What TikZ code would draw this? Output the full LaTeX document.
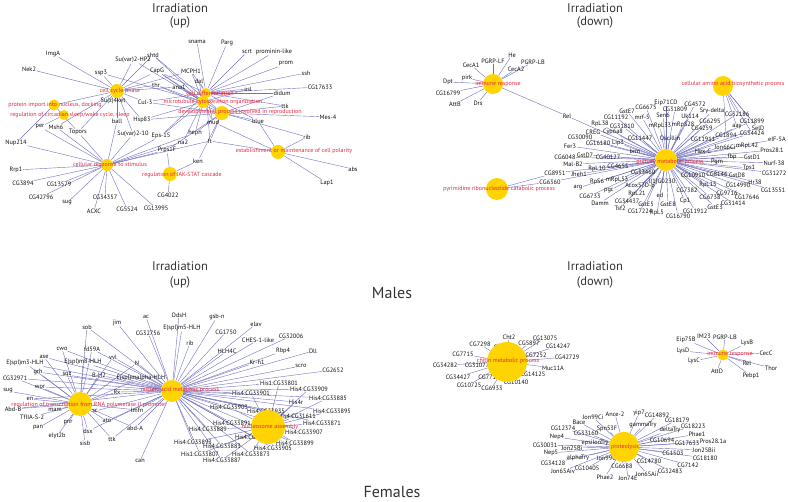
\documentclass[tikz,border=0pt]{standalone}
\usepackage{fontspec}
\setmainfont{PT Sans}
\pgfdeclarelayer{bg}
\pgfsetlayers{bg,main}
\definecolor{edgec}{RGB}{112,112,192}
\definecolor{hubc}{RGB}{255,212,0}
\definecolor{hubl}{RGB}{228,40,62}
\definecolor{txt}{RGB}{15,15,15}
\newcommand\gnode[4]{\node[gene] (#1) at (#2,#3) {#4};}
\newcommand\hubnode[7]{\node[hubdot, minimum size=#4pt] (#1) at (#2,#3) {}; \node[hublab] (#1-l) at (#6,#7) {#5};}
\newcommand\edges[2]{\foreach \g in {#2}{\draw[edge] (#1) -- (\g);}}
\begin{document}
\begin{tikzpicture}[x=1pt,y=-1pt,
  gene/.style={font=\fontsize{6.3}{7}\selectfont, text=txt, inner sep=0.4pt},
  hubdot/.style={circle, fill=hubc, draw=none, inner sep=0},
  hublab/.style={font=\fontsize{6}{7}\selectfont, text=hubl, inner sep=0},
  edge/.style={draw=edgec, line width=0.4pt},
  ttl/.style={font=\fontsize{12.5}{14}\selectfont, text=txt!85, inner sep=0},
  big/.style={font=\fontsize{16}{18}\selectfont, text=txt!85, inner sep=0}]
\useasboundingbox (0,0) rectangle (788,502);
% titles
\node[ttl] (t1) at (180,8) {Irradiation};
\node[ttl] (t2) at (180,22) {(up)};
\node[ttl] (t3) at (595,8) {Irradiation};
\node[ttl] (t4) at (595,22) {(down)};
\node[ttl] (t5) at (180,266) {Irradiation};
\node[ttl] (t6) at (180,282) {(up)};
\node[ttl] (t7) at (595,266) {Irradiation};
\node[ttl] (t8) at (595,282) {(down)};
\node[big] (males) at (392,293) {Males};
\node[big] (females) at (392,492) {Females};
% ================= TL =================
\gnode{aImgA}{53}{54}{ImgA}
\gnode{aNek2}{29}{69}{Nek2}
\gnode{aSuvHP}{133}{60}{Su(var)2-HP2}
\gnode{ashtd}{153}{55}{shtd}
\gnode{assp3}{101}{73}{ssp3}
\gnode{aCapG}{157}{71}{CapG}
\gnode{aMCPH}{191}{71}{MCPH1}
\gnode{athr}{156}{85}{thr}
\gnode{aana}{179}{87}{ana1}
\gnode{aSuz}{113}{101}{Su(z)4ket}
\gnode{aCul}{145}{102}{Cul-3}
\gnode{aball}{117}{121}{ball}
\gnode{aHsp}{142}{120}{Hsp83}
\gnode{aper}{40}{127}{per}
\gnode{aMsh}{56}{127}{Msh6}
\gnode{aTopors}{78}{132}{Topors}
\gnode{aNup}{16}{143}{Nup214}
\gnode{aSuv10}{133}{134}{Su(var)2-10}
\gnode{aEps}{161}{136}{Eps-15}
\gnode{aPrps}{167}{150}{Prps1F}
\gnode{ana2}{183}{142}{na2}
\gnode{aken}{198}{161}{ken}
\gnode{aheph}{195}{133}{heph}
\gnode{amud}{213}{122}{mud}
\gnode{aft}{210}{141}{ft}
\gnode{ablue}{258}{121}{blue}
\gnode{aMes}{328}{117}{Mes-4}
\gnode{arib}{307}{137}{rib}
\gnode{aabs}{353}{169}{abs}
\gnode{aLap}{327}{183}{Lap1}
\gnode{asnama}{197}{42}{snama}
\gnode{aParg}{227}{43}{Parg}
\gnode{ascrt}{247}{52}{scrt}
\gnode{aproml}{274}{52}{prominin-like}
\gnode{aprom}{286}{64}{prom}
\gnode{assh}{306}{73}{ssh}
\gnode{aCGa}{320}{87}{CG17633}
\gnode{adidum}{282}{93}{didum}
\gnode{aasl}{248}{89}{asl}
\gnode{adal}{199}{81}{dal}
\gnode{attk}{285}{106}{ttk}
\gnode{aRrp}{16}{170}{Rrp1}
\gnode{aCGb}{23}{183}{CG3894}
\gnode{aCGc}{59}{184}{CG13579}
\gnode{aCGd}{41}{197}{CG42796}
\gnode{asug}{67}{203}{sug}
\gnode{aCGe}{105}{197}{CG34357}
\gnode{aACXC}{94}{211}{ACXC}
\gnode{aCGf}{127}{209}{CG5524}
\gnode{aCGg}{156}{208}{CG13995}
\gnode{aCGh}{168}{195}{CG4022}
\hubnode{accp}{117}{91}{14}{cell cycle phase}{120}{91}
\hubnode{apin}{54}{105}{11}{protein import into nucleus, docking}{55}{105}
\hubnode{arcs}{64}{115}{10}{regulation of circadian sleep/wake cycle, sleep}{70}{115}
\hubnode{acdf}{206}{93}{10}{cell differentiation}{210}{93}
\hubnode{amco}{203}{102}{12}{microtubule cytoskeleton organization}{213}{102}
\hubnode{adpr}{222}{113}{14}{developmental process involved in reproduction}{240}{112}
\hubnode{acrs}{107}{165}{12}{cellular response to stimulus}{110}{165}
\hubnode{ajak}{170}{174}{14}{regulation of JAK-STAT cascade}{182}{175}
\hubnode{apol}{278}{152}{14}{establishment or maintenance of cell polarity}{294}{151}
% ================= TR =================
\gnode{bCecA1}{471}{65}{CecA1}
\gnode{bPGLF}{493}{61}{PGRP-LF}
\gnode{bHe}{512}{55}{He}
\gnode{bPGLB}{533}{62}{PGRP-LB}
\gnode{bCecA2}{516}{69}{CecA2}
\gnode{bpirk}{467}{78}{pirk}
\gnode{bDpt}{448}{82}{Dpt}
\gnode{bCG1}{448}{93}{CG16799}
\gnode{bAttB}{455}{104}{AttB}
\gnode{bDrs}{478}{103}{Drs}
\gnode{bRel}{567}{116}{Rel}
\gnode{b01}{616}{117}{CG11192}
\gnode{b02}{600}{124}{RpL38}
\gnode{b03}{593}{132}{CREG}
\gnode{b04}{613}{132}{Cyp6a8}
\gnode{b05}{580}{137}{CG30090}
\gnode{b06}{598}{143}{CG16180}
\gnode{b07}{618}{143}{Lip3}
\gnode{b08}{570}{146}{Fer3}
\gnode{b09}{635}{151}{brm}
\gnode{b10}{565}{157}{CG6048}
\gnode{b11}{585}{155}{GstD7}
\gnode{b12}{608}{157}{CG40127}
\gnode{b13}{573}{164}{Mal-B2}
\gnode{b14}{618}{166}{CG4655}
\gnode{b15}{597}{169}{RpL10}
\gnode{b16}{555}{173}{CG8951}
\gnode{b17}{579}{174}{Jheh1}
\gnode{b18}{550}{182}{CG6360}
\gnode{b19}{578}{188}{arg}
\gnode{b20}{597}{182}{RpS6}
\gnode{b21}{617}{180}{mRpL53}
\gnode{b22}{643}{172}{CG33460}
\gnode{b23}{609}{191}{pgc}
\gnode{b24}{590}{196}{CG6733}
\gnode{b25}{640}{186}{Acox57D-p}
\gnode{b26}{662}{182}{l(1)G0230}
\gnode{b27}{637}{194}{RpL21}
\gnode{b28}{600}{203}{Damm}
\gnode{b29}{627}{201}{CG34437}
\gnode{b30}{660}{195}{ed}
\gnode{b31}{646}{204}{GstE5}
\gnode{b32}{668}{204}{GstE8}
\gnode{b33}{620}{208}{Tsf2}
\gnode{b34}{640}{211}{CG17224}
\gnode{b35}{657}{213}{RpL5}
\gnode{b36}{678}{216}{CG16790}
\gnode{b37}{687}{190}{CG7382}
\gnode{b38}{685}{201}{Cp1}
\gnode{b39}{695}{211}{CG11912}
\gnode{b40}{710}{197}{CG6738}
\gnode{b41}{715}{207}{GstE3}
\gnode{b42}{708}{185}{RpL15}
\gnode{b43}{727}{193}{CG9716}
\gnode{b44}{733}{203}{CG31414}
\gnode{b45}{738}{185}{CG14990}
\gnode{b46}{747}{197}{CG17646}
\gnode{b47}{773}{190}{CG13551}
\gnode{b48}{693}{175}{CG10910}
\gnode{b49}{717}{174}{CG8146}
\gnode{b50}{737}{175}{GstD8}
\gnode{b51}{755}{182}{Hr38}
\gnode{b52}{774}{173}{CG31272}
\gnode{b53}{749}{168}{Tps1}
\gnode{b54}{774}{163}{Nurf-38}
\gnode{b55}{752}{157}{GstD1}
\gnode{b56}{732}{157}{fbp}
\gnode{b57}{717}{162}{Pgm}
\gnode{b58}{772}{150}{Pros28.1}
\gnode{b59}{747}{146}{mRpL42}
\gnode{b60}{703}{151}{Hex-C}
\gnode{b61}{725}{147}{Jon66Ci}
\gnode{b62}{777}{139}{eIF-5A}
\gnode{b63}{752}{133}{CG34424}
\gnode{b64}{758}{128}{SelD}
\gnode{b65}{752}{121}{CG11899}
\gnode{b66}{737}{127}{aay}
\gnode{b67}{737}{114}{CG32186}
\gnode{b68}{726}{135}{CG1894}
\gnode{b69}{703}{139}{CG11911}
\gnode{b70}{710}{121}{CG6295}
\gnode{b71}{712}{111}{Sry-delta}
\gnode{b72}{702}{128}{CG4259}
\gnode{b73}{695}{104}{CG4572}
\gnode{b74}{690}{116}{Uk114}
\gnode{b75}{675}{109}{CG31809}
\gnode{b76}{683}{125}{mRpS28}
\gnode{b77}{663}{115}{Sen6}
\gnode{b78}{666}{103}{Eip71CD}
\gnode{b79}{646}{107}{CG6675}
\gnode{b80}{627}{111}{GstE7}
\gnode{b81}{660}{126}{mRpL33}
\gnode{b82}{670}{138}{Oscillin}
\gnode{b83}{640}{138}{CG11447}
\gnode{b84}{622}{126}{CG31810}
\gnode{b85}{642}{117}{mrf-5}
\hubnode{bimr}{493}{84}{20}{immune response}{498}{84}
\hubnode{baab}{723}{86}{20}{cellular amino acid biosynthetic process}{733}{84}
\hubnode{bpmp}{666}{160}{22}{primary metabolic process}{670}{162}
\hubnode{bpyr}{497}{189}{22}{pyrimidine ribonucleotide catabolic process}{499}{189}
% ================= BL =================
\gnode{cac}{146}{317}{ac}
\gnode{cOdsH}{179}{315}{OdsH}
\gnode{csob}{87}{327}{sob}
\gnode{cjim}{117}{323}{jim}
\gnode{cCG1}{148}{333}{CG32756}
\gnode{cE5}{182}{328}{E(spl)m5-HLH}
\gnode{crib}{190}{343}{rib}
\gnode{ccwo}{62}{349}{cwo}
\gnode{cfd}{92}{349}{fd59A}
\gnode{case}{44}{357}{ase}
\gnode{cE3}{25}{363}{E(spl)m3-HLH}
\gnode{cE8}{83}{362}{E(spl)m8-HLH}
\gnode{cvvl}{113}{357}{vvl}
\gnode{cN}{137}{363}{N}
\gnode{cgrh}{38}{372}{grh}
\gnode{csqz}{67}{375}{sqz}
\gnode{cBH}{99}{375}{B-H2}
\gnode{cEa}{141}{378}{E(spl)malpha-HLH}
\gnode{cCG2}{15}{378}{CG32971}
\gnode{cwor}{40}{387}{wor}
\gnode{csug}{8}{391}{sug}
\gnode{cRx}{117}{392}{Rx}
\gnode{cen}{30}{399}{en}
\gnode{cAbdB}{13}{409}{Abd-B}
\gnode{cmam}{55}{410}{mam}
\gnode{csc}{95}{411}{sc}
\gnode{clmfn}{137}{410}{lmfn}
\gnode{cTf}{32}{417}{TfIIA-S-2}
\gnode{cato}{107}{421}{ato}
\gnode{cabdA}{135}{428}{abd-A}
\gnode{cpnr}{68}{423}{pnr}
\gnode{cpan}{38}{428}{pan}
\gnode{cely}{57}{436}{elyt2b}
\gnode{cdsx}{88}{431}{dsx}
\gnode{csis}{85}{443}{sisb}
\gnode{cttk}{112}{439}{ttk}
\gnode{ccan}{140}{461}{can}
\gnode{cgsb}{217}{317}{gsb-n}
\gnode{cCG3}{226}{332}{CG1750}
\gnode{celav}{256}{324}{elav}
\gnode{cCHES}{258}{340}{CHES-1-like}
\gnode{cCG4}{291}{336}{CG32006}
\gnode{cHLH}{227}{351}{HLH4C}
\gnode{cRbp}{283}{351}{Rbp4}
\gnode{cDll}{313}{351}{Dll}
\gnode{cKr}{257}{362}{Kr-h1}
\gnode{cscro}{301}{366}{scro}
\gnode{cCG5}{333}{370}{CG2652}
\gnode{cH01}{279}{383}{His1:CG33801}
\gnode{cH02}{309}{389}{His4:CG33909}
\gnode{cH03}{251}{393}{His4:CG33901}
\gnode{cH04}{296}{402}{His4r}
\gnode{cH05}{328}{398}{His4:CG33885}
\gnode{cH06}{229}{407}{His4:CG33903}
\gnode{cH07}{266}{411}{His4:CG33935}
\gnode{cH08}{332}{411}{His4:CG33895}
\gnode{cH09}{297}{416}{His4:CG31611}
\gnode{cH10}{232}{423}{His4:CG33891}
\gnode{cH11}{322}{423}{His4:CG33871}
\gnode{cH12}{208}{429}{His4:CG33889}
\gnode{cH13}{304}{432}{His4:CG33907}
\gnode{cH14}{254}{437}{His4:CG33897}
\gnode{cH15}{295}{443}{His4:CG33899}
\gnode{cH16}{193}{442}{His4:CG33893}
\gnode{cH17}{222}{446}{His4:CG33883}
\gnode{cH18}{273}{448}{His4:CG33905}
\gnode{cH19}{200}{454}{His1:CG33807}
\gnode{cH20}{251}{454}{His4:CG33873}
\gnode{cH21}{222}{460}{His4:CG33887}
\hubnode{cnam}{172}{391}{22}{nucleic acid metabolic process}{180}{390}
\hubnode{crtr}{80}{404}{24}{regulation of transcription from RNA polymerase II promoter}{89}{405}
\hubnode{cnuc}{268}{427}{34}{nucleosome assembly}{270}{427}
% ================= BR =================
\gnode{dCht2}{509}{337}{Cht2}
\gnode{dCG01}{545}{338}{CG13075}
\gnode{dCG02}{480}{344}{CG7298}
\gnode{dCht9}{500}{347}{Cht9}
\gnode{dCG03}{529}{343}{CG5897}
\gnode{dCG04}{558}{346}{CG14247}
\gnode{dCG05}{463}{354}{CG7715}
\gnode{dCG06}{536}{355}{CG7252}
\gnode{dCG07}{567}{357}{CG42729}
\gnode{dCG08}{445}{365}{CG34282}
\gnode{dCG09}{477}{365}{CG31077}
\gnode{dMuc}{553}{368}{Muc11A}
\gnode{dCG10}{458}{377}{CG34427}
\gnode{dCG11}{489}{377}{CG7714}
\gnode{dCG12}{533}{374}{CG14125}
\gnode{dCG13}{516}{382}{CG10140}
\gnode{dCG14}{469}{385}{CG10725}
\gnode{dCG15}{492}{388}{CG6933}
\gnode{dIM23}{704}{336}{IM23}
\gnode{dPG}{725}{337}{PGRP-LB}
\gnode{dEip}{686}{340}{Eip75B}
\gnode{dLysB}{747}{343}{LysB}
\gnode{dLysD}{683}{351}{LysD}
\gnode{dCecC}{766}{353}{CecC}
\gnode{dLysC}{694}{361}{LysC}
\gnode{dRel}{747}{363}{Rel}
\gnode{dThor}{771}{368}{Thor}
\gnode{dAttD}{717}{371}{AttD}
\gnode{dPebp}{751}{376}{Pebp1}
\gnode{dp01}{593}{417}{Jon99Ci}
\gnode{dp02}{615}{414}{Ance-2}
\gnode{dp03}{639}{413}{yip7}
\gnode{dp04}{657}{415}{CG14892}
\gnode{dp05}{579}{422}{Bace}
\gnode{dp06}{677}{420}{CG18179}
\gnode{dp07}{607}{429}{Spn53F}
\gnode{dp08}{643}{425}{gammaTry}
\gnode{dp09}{563}{428}{CG12374}
\gnode{dp10}{586}{433}{CG33160}
\gnode{dp11}{670}{430}{deltaTry}
\gnode{dp12}{693}{426}{CG18223}
\gnode{dp13}{557}{437}{Nep4}
\gnode{dp14}{697}{434}{Phae1}
\gnode{dp15}{595}{443}{epsilonTry}
\gnode{dp16}{662}{440}{CG10694}
\gnode{dp17}{687}{443}{CG17633}
\gnode{dp18}{713}{441}{Pros28.1a}
\gnode{dp19}{545}{445}{CG30031}
\gnode{dp20}{572}{448}{Jon25Bi}
\gnode{dp21}{704}{450}{Jon25Bii}
\gnode{dp22}{551}{453}{Nep5}
\gnode{dp23}{578}{458}{alphaTry}
\gnode{dp24}{608}{458}{Jon99Cii}
\gnode{dp25}{673}{453}{CG1503}
\gnode{dp26}{705}{458}{CG18180}
\gnode{dp27}{553}{463}{CG34128}
\gnode{dp28}{688}{465}{CG7142}
\gnode{dp29}{649}{461}{CG14780}
\gnode{dp30}{563}{471}{Jon65Aiv}
\gnode{dp31}{587}{468}{CG10405}
\gnode{dp32}{622}{466}{CG6688}
\gnode{dp33}{670}{471}{CG32483}
\gnode{dp34}{647}{474}{Jon65Aii}
\gnode{dp35}{605}{477}{Phae2}
\gnode{dp36}{628}{478}{Jon74E}
\hubnode{dchm}{507}{362}{40}{chitin metabolic process}{508}{361}
\hubnode{dfir}{723}{355}{11}{immune response}{730}{354}
\hubnode{dpro}{624}{447}{30}{proteolysis}{625}{447}
% ================= edges =================
\begin{pgfonlayer}{bg}
\edges{accp}{aImgA,aNek2,aSuvHP,ashtd,assp3,aCapG,aMCPH,athr,aana,aSuz,aCul,aball,aHsp,aMsh,aTopors,aSuv10,apin}
\edges{amco}{aSuvHP,ashtd,assp3,aCapG,aMCPH,athr,aana,aHsp,aEps,ana2,amud,aasl,adal}
\edges{acdf}{aMCPH,aCul,aEps,aheph,amud,aft,ablue,asnama,aParg,ascrt,aproml,aprom,assh,aCGa,adidum,aasl,adal,attk,aCapG}
\edges{adpr}{ashtd,aCapG,athr,aCul,aHsp,aPrps,aken,aheph,amud,aft,ablue,aMes,arib,adidum,attk}
\edges{apin}{aNup,aTopors}
\edges{arcs}{aper}
\edges{acrs}{aball,aper,aNup,aSuv10,aEps,aPrps,ana2,aheph,aft,aRrp,aCGb,aCGc,aCGd,asug,aCGe,aACXC,aCGf,aCGg,aMsh,aTopors}
\edges{ajak}{aPrps,aken,aCGh}
\edges{apol}{aft,ablue,arib,aabs,aLap,amud}
\edges{bimr}{bCecA1,bPGLF,bHe,bPGLB,bCecA2,bpirk,bDpt,bCG1,bAttB,bDrs,bRel}
\edges{bpmp}{bRel,b01,b02,b03,b04,b05,b06,b07,b08,b09,b10,b11,b12,b13,b14,b15,b16,b17,b18,b19,b20,b21,b22,b23,b24,b25,b26,b27,b28,b29,b30,b31,b32,b33,b34,b35,b36,b37,b38,b39,b40,b41,b42,b43,b44,b45,b46,b47,b48,b49,b50,b51,b52,b53,b54,b55,b56,b57,b58,b59,b60,b61,b62,b63,b64,b65,b66,b67,b68,b69,b70,b71,b72,b73,b74,b75,b76,b77,b78,b79,b80,b81,b82,b83,b84,b85}
\edges{baab}{b67,b65,b66,b64,b63,b68}
\edges{bpyr}{b16,b18}
\edges{cnam}{cac,cOdsH,csob,cjim,cCG1,cE5,crib,ccwo,cfd,case,cE3,cE8,cvvl,cN,cgrh,csqz,cBH,cEa,cCG2,cwor,cRx,cen,cAbdB,csc,clmfn,cato,cabdA,cdsx,cttk,ccan,cgsb,cCG3,celav,cCHES,cCG4,cHLH,cRbp,cDll,cKr,cscro,cCG5,cH01,cH02,cH03,cH04,cH05,cH06,cH07,cH08,cH09,cH10,cH11,cH12,cH13,cH14,cH15,cH16,cH17,cH18,cH19,cH20,cH21}
\edges{crtr}{csob,ccwo,cfd,case,cE3,cE8,cvvl,cN,cgrh,csqz,cBH,cEa,cCG2,cwor,csug,cRx,cen,cAbdB,cmam,csc,clmfn,cTf,cato,cabdA,cpnr,cpan,cely,cdsx,csis,cttk}
\edges{cnuc}{cH01,cH02,cH03,cH04,cH05,cH06,cH07,cH08,cH09,cH10,cH11,cH12,cH13,cH14,cH15,cH16,cH17,cH18,cH19,cH20,cH21}
\edges{dchm}{dCht2,dCG01,dCG02,dCht9,dCG03,dCG04,dCG05,dCG06,dCG07,dCG08,dCG09,dMuc,dCG10,dCG11,dCG12,dCG13,dCG14,dCG15}
\edges{dfir}{dIM23,dPG,dEip,dLysB,dLysD,dCecC,dLysC,dRel,dThor,dAttD,dPebp}
\edges{dpro}{dp01,dp02,dp03,dp04,dp05,dp06,dp07,dp08,dp09,dp10,dp11,dp12,dp13,dp14,dp15,dp16,dp17,dp18,dp19,dp20,dp21,dp22,dp23,dp24,dp25,dp26,dp27,dp28,dp29,dp30,dp31,dp32,dp33,dp34,dp35,dp36}
\end{pgfonlayer}
\end{tikzpicture}
\end{document}
